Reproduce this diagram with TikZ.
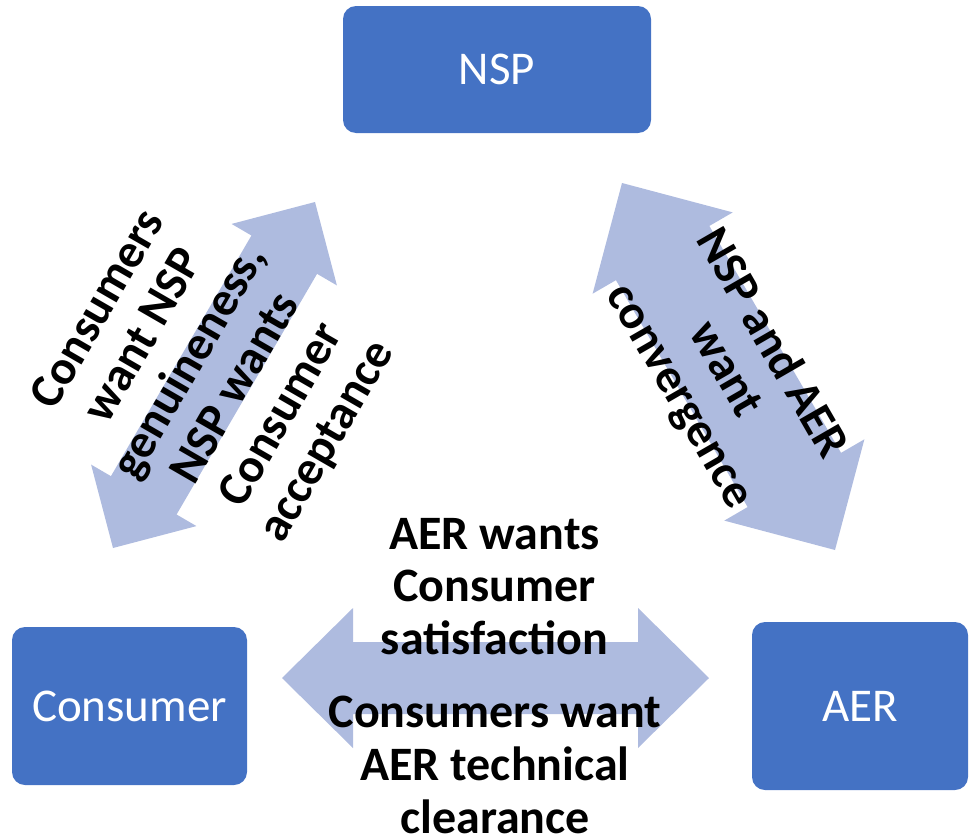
\documentclass[tikz,border=0pt]{standalone}
\usepackage{fontspec}
\setmainfont{Carlito}
\usetikzlibrary{calc}
\definecolor{boxblue}{HTML}{4472C4}
\definecolor{arrowblue}{RGB}{174,187,223}
% double headed block arrow between two named tips:
% #1,#2 tips, #3 shaft half width, #4 head half width, #5 head length
\newcommand\blockarrow[5]{%
\fill[arrowfill] (#1)
 -- ($(#1)!#5!(#2)!#4!90:(#2)$) -- ($(#1)!#5!(#2)!#3!90:(#2)$)
 -- ($(#2)!#5!(#1)!#3!-90:(#1)$) -- ($(#2)!#5!(#1)!#4!-90:(#1)$)
 -- (#2)
 -- ($(#2)!#5!(#1)!#4!90:(#1)$) -- ($(#2)!#5!(#1)!#3!90:(#1)$)
 -- ($(#1)!#5!(#2)!#3!-90:(#2)$) -- ($(#1)!#5!(#2)!#4!-90:(#2)$)
 -- cycle;}

\begin{document}
\begin{tikzpicture}[x=1pt,y=-1pt,
  party/.style={fill=boxblue,rounded corners=13pt,text=white,
    font=\fontsize{47}{56}\selectfont},
  want/.style={align=center,inner sep=0pt,
    font=\fontsize{48}{52.8}\selectfont\bfseries},
  arrowfill/.style={fill=arrowblue}]
\useasboundingbox (0,0) rectangle (969,838);
%\draw[help lines,step=50] (0,0) grid (969,838);

% the three parties
\node[party,minimum width=308pt,minimum height=127pt] (nsp) at (497,69.5) {NSP};
\node[party,minimum width=235pt,minimum height=158pt] (consumer) at (129.5,706) {Consumer};
\node[party,minimum width=216pt,minimum height=168pt] (aer) at (860,706) {AER};

% arrow tips
\coordinate (cn1) at (113,548);
\coordinate (cn2) at (315,202);
\coordinate (na1) at (622,183);
\coordinate (na2) at (835,550);
\coordinate (ca1) at (282,678);
\coordinate (ca2) at (709,678);

\blockarrow{cn1}{cn2}{38pt}{61pt}{61pt}
\blockarrow{na1}{na2}{54pt}{81pt}{81pt}
\blockarrow{ca1}{ca2}{36pt}{70pt}{71pt}

% what each side wants
\node[want,rotate=60] (cnwant) at (214,376)
  {Consumers\\want NSP\\genuineness,\\NSP wants\\Consumer\\acceptance};
\node[want,rotate=-60] (nawant) at (725,370)
  {NSP and AER\\want\\convergence};
\node[want] (aerwant) at (494.5,586.5) {AER wants\\Consumer\\satisfaction};
\node[want] (conwant) at (495,765) {Consumers want\\AER technical\\clearance};
\end{tikzpicture}
\end{document}
